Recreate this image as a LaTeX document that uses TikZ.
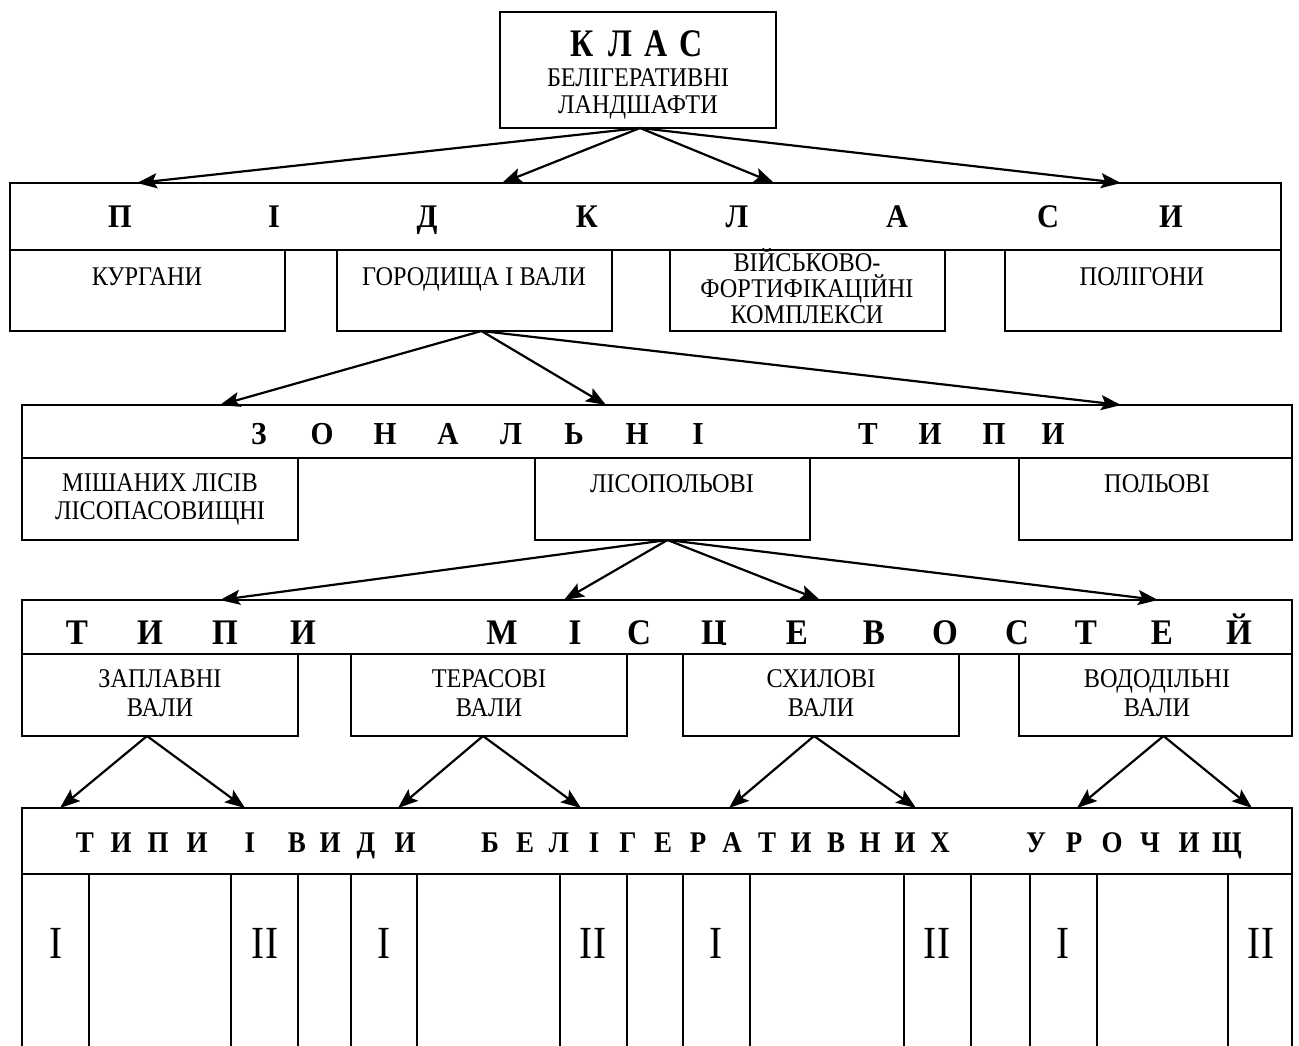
\documentclass[tikz,border=0pt]{standalone}
\usepackage{fontspec}
\setmainfont{Liberation Serif}
\newfontfamily\fA{Liberation Serif}[FakeStretch=0.9]
\newfontfamily\fB{Liberation Serif}[FakeStretch=0.82]
\newfontfamily\fC{Liberation Serif}[FakeStretch=0.85]
\newfontfamily\fD{Liberation Serif}[FakeStretch=0.92]
\usetikzlibrary{arrows.meta,fit}
\begin{document}
\begin{tikzpicture}[x=1pt,y=-1pt,
  box/.style={draw, line width=1.6pt, inner sep=0pt, outer sep=0pt},
  conn/.style={line width=2.2pt, -{Stealth[length=20pt,width=15pt,inset=4pt]}},
  txt/.style={anchor=base, inner sep=0pt, font=\fA\fontsize{27}{29}\selectfont},
  bandl/.style={anchor=base, inner sep=0pt, font=\fD\fontsize{33}{35}\selectfont\bfseries},
  bandz/.style={anchor=base, inner sep=0pt, font=\fD\fontsize{32}{34}\selectfont\bfseries},
  bandm/.style={anchor=base, inner sep=0pt, font=\fD\fontsize{36}{38}\selectfont\bfseries},
  bands/.style={anchor=base, inner sep=0pt, font=\fA\fontsize{30}{32}\selectfont\bfseries},
  roman/.style={anchor=center, inner sep=0pt, font=\fC\fontsize{46}{48}\selectfont},
  titl/.style={anchor=base, inner sep=0pt, font=\fB\fontsize{39}{41}\selectfont\bfseries}
]
\useasboundingbox (0,0) rectangle (1299,1046);

% ---- boxes ----
\node[box, fit={(500,12) (776,128)}] (klas) {};
\node[box, fit={(10,183) (1281,250)}] (pk) {};
\node[box, fit={(10,250) (285,331)}] (kur) {};
\node[box, fit={(337,250) (612,331)}] (gor) {};
\node[box, fit={(670,250) (945,331)}] (vij) {};
\node[box, fit={(1005,250) (1281,331)}] (pol) {};
\node[box, fit={(22,405) (1292,458)}] (zt) {};
\node[box, fit={(22,458) (298,540)}] (mish) {};
\node[box, fit={(535,458) (810,540)}] (lp) {};
\node[box, fit={(1019,458) (1292,540)}] (polv) {};
\node[box, fit={(22,600) (1292,654)}] (tm) {};
\node[box, fit={(22,654) (298,736)}] (zap) {};
\node[box, fit={(351,654) (627,736)}] (ter) {};
\node[box, fit={(683,654) (959,736)}] (sch) {};
\node[box, fit={(1019,654) (1292,736)}] (vod) {};
\node[box, fit={(22,808) (1292,874)}] (bb) {};
\foreach \a/\b [count=\i] in {22/89,231/298,351/417,560/627,683/750,904/971,1030/1097,1228/1292}
  \node[box, fit={(\a,874) (\b,1060)}] (cell\i) {};

% ---- texts ----
\foreach \x/\l [count=\i] in {582/К,620/Л,656/А,691/С}
  \node[titl] (klasl\i) at (\x,57) {\l};
\node[txt] (klas2) at (638,87) {БЕЛІГЕРАТИВНІ};
\node[txt] (klas3) at (638,114) {ЛАНДШАФТИ};

\foreach \x/\l [count=\i] in {120/П,274/І,427/Д,587/К,737/Л,897/А,1048/С,1171/И}
  \node[bandl] (pkl\i) at (\x,227) {\l};

\node[txt] (kurt) at (147,285) {КУРГАНИ};
\node[txt] (gort) at (474,285) {ГОРОДИЩА І ВАЛИ};
\node[txt] (vijt1) at (807,271) {ВІЙСЬКОВО-};
\node[txt] (vijt2) at (807,297) {ФОРТИФІКАЦІЙНІ};
\node[txt] (vijt3) at (807,323) {КОМПЛЕКСИ};
\node[txt] (polt) at (1142,285) {ПОЛІГОНИ};

\foreach \x/\l [count=\i] in {259/З,322/О,385/Н,448/А,511/Л,574/Ь,637/Н,698/І,868/Т,930/И,994/П,1053/И}
  \node[bandz] (ztl\i) at (\x,444) {\l};

\node[txt] (misht1) at (160,491) {МІШАНИХ ЛІСІВ};
\node[txt] (misht2) at (160,519) {ЛІСОПАСОВИЩНІ};
\node[txt] (lpt) at (672,492) {ЛІСОПОЛЬОВІ};
\node[txt] (polvt) at (1157,492) {ПОЛЬОВІ};

\begin{scope}
\clip (0,0) rectangle (1299,644);
\foreach \x/\l [count=\i] in {77/Т,150/И,225/П,303/И,502/М,575/І,639/С,714/Ц,797/Е,874/В,945/О,1017/С,1086/Т,1162/Е,1239/Й}
  \node[bandm] (tml\i) at (\x,644) {\l};
\end{scope}

\node[txt] (zapt1) at (160,687) {ЗАПЛАВНІ};
\node[txt] (zapt2) at (160,716) {ВАЛИ};
\node[txt] (tert1) at (489,687) {ТЕРАСОВІ};
\node[txt] (tert2) at (489,716) {ВАЛИ};
\node[txt] (scht1) at (821,687) {СХИЛОВІ};
\node[txt] (scht2) at (821,716) {ВАЛИ};
\node[txt] (vodt1) at (1157,687) {ВОДОДІЛЬНІ};
\node[txt] (vodt2) at (1157,716) {ВАЛИ};

\foreach \x/\l [count=\i] in {85/Т,121/И,158/П,197/И,250/І,297/В,330/И,366/Д,405/И,
  490/Б,525/Е,559/Л,594/І,628/Г,663/Е,698/Р,732/А,767/Т,801/И,836/В,870/Н,905/И,940/Х,
  1036/У,1074/Р,1112/О,1150/Ч,1189/И,1227/Щ}
  \node[bands] (bbl\i) at (\x,852) {\l};

\foreach \x/\l [count=\i] in {56/I,265/II,384/I,593/II,716/I,937/II,1063/I,1261/II}
  \node[roman] (rl\i) at (\x,943) {\l};

% ---- connectors ----
\foreach \t in {137,502,774,1121}
  \draw[conn] ([xshift=2pt]klas.south) -- (\t,0 |- pk.north);
\foreach \t in {220,606,1121}
  \draw[conn] ([xshift=7pt]gor.south) -- (\t,0 |- zt.north);
\foreach \t in {220,564,820,1158}
  \draw[conn] ([xshift=-5pt]lp.south) -- (\t,0 |- tm.north);
\foreach \t in {60,245}
  \draw[conn] ([xshift=-13pt]zap.south) -- (\t,0 |- bb.north);
\foreach \t in {398,581}
  \draw[conn] ([xshift=-6pt]ter.south) -- (\t,0 |- bb.north);
\foreach \t in {729,916}
  \draw[conn] ([xshift=-7pt]sch.south) -- (\t,0 |- bb.north);
\foreach \t in {1077,1252}
  \draw[conn] ([xshift=8pt]vod.south) -- (\t,0 |- bb.north);
\end{tikzpicture}
\end{document}
